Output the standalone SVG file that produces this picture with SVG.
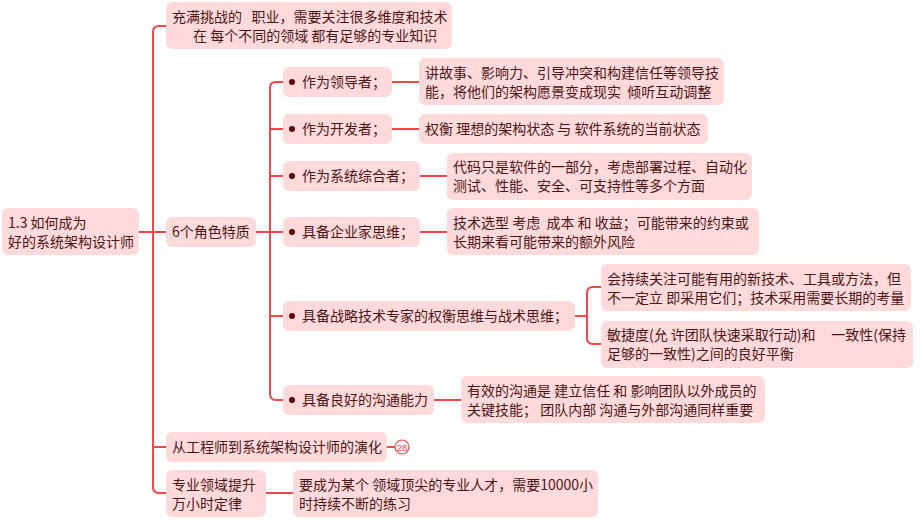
<svg xmlns="http://www.w3.org/2000/svg" width="923" height="530" viewBox="0 0 923 530">
<style>
.n{fill:#ffdada;}
.t{font-family:"Noto Sans CJK SC","Liberation Sans",sans-serif;font-size:14px;fill:#4b1616;white-space:pre;}
.c{fill:none;stroke:#f04848;stroke-width:2;}
.b{fill:#5c0a0a;}
</style>
<rect width="923" height="530" fill="#ffffff"/>
<g id="connectors">
<path class="c" d="M139 232 H166"/>
<path class="c" d="M166 26 H159 Q153 26 153 32 V487 Q153 493 159 493 H166"/>
<path class="c" d="M153 447 H166"/>
<path class="c" d="M256 232 H283"/>
<path class="c" d="M283 82 H276 Q270 82 270 88 V394 Q270 400 276 400 H283"/>
<path class="c" d="M270 129 H283 M270 176 H283 M270 316 H283"/>
<path class="c" d="M392 82 H419 M392 129 H419 M420 176 H447 M420 232 H447 M434 400 H461 M266 493 H293 M387 447 H395"/>
<path class="c" d="M575 316 H587"/>
<path class="c" d="M601 287 H593 Q587 287 587 293 V338 Q587 344 593 344 H601"/>
</g>
<g id="root"><rect class="n" x="2" y="208" width="137" height="47" rx="6"/><text class="t" x="8" y="228">1.3 如何成为<tspan x="8" dy="18.5">好的系统架构设计师</tspan></text></g>
<g id="challenge"><rect class="n" x="166" y="2" width="286" height="47" rx="6"/><text class="t" x="172" y="22">充满挑战的   职业，需要关注很多维度和技术<tspan x="193" dy="18.5">在 每个不同的领域 都有足够的专业知识</tspan></text></g>
<g id="roles"><rect class="n" x="166" y="217" width="90" height="30" rx="6"/><text class="t" x="172" y="237">6个角色特质</text></g>
<g id="leader"><rect class="n" x="283" y="67" width="109" height="30" rx="6"/><circle class="b" cx="292" cy="82" r="3"/><text class="t" x="302" y="87">作为领导者；</text></g>
<g id="leader-leaf"><rect class="n" x="419" y="58" width="305" height="47" rx="6"/><text class="t" x="425" y="78">讲故事、影响力、引导冲突和构建信任等领导技<tspan x="425" dy="18.5">能，将他们的架构愿景变成现实  倾听互动调整</tspan></text></g>
<g id="dev"><rect class="n" x="283" y="114" width="109" height="30" rx="6"/><circle class="b" cx="292" cy="129" r="3"/><text class="t" x="302" y="134">作为开发者；</text></g>
<g id="dev-leaf"><rect class="n" x="419" y="114" width="289" height="30" rx="6"/><text class="t" x="425" y="134">权衡 理想的架构状态 与 软件系统的当前状态</text></g>
<g id="integrator"><rect class="n" x="283" y="161" width="137" height="30" rx="6"/><circle class="b" cx="292" cy="176" r="3"/><text class="t" x="302" y="181">作为系统综合者；</text></g>
<g id="integrator-leaf"><rect class="n" x="447" y="153" width="305" height="47" rx="6"/><text class="t" x="453" y="172">代码只是软件的一部分，考虑部署过程、自动化<tspan x="453" dy="18.5">测试、性能、安全、可支持性等多个方面</tspan></text></g>
<g id="entrepreneur"><rect class="n" x="283" y="217" width="137" height="30" rx="6"/><circle class="b" cx="292" cy="232" r="3"/><text class="t" x="302" y="237">具备企业家思维；</text></g>
<g id="entrepreneur-leaf"><rect class="n" x="447" y="208" width="312" height="47" rx="6"/><text class="t" x="453" y="228">技术选型 考虑  成本 和 收益；可能带来的约束或<tspan x="453" dy="18.5">长期来看可能带来的额外风险</tspan></text></g>
<g id="strategy"><rect class="n" x="283" y="301" width="292" height="30" rx="6"/><circle class="b" cx="292" cy="316" r="3"/><text class="t" x="302" y="321">具备战略技术专家的权衡思维与战术思维；</text></g>
<g id="strategy-leaf1"><rect class="n" x="601" y="264" width="310" height="47" rx="6"/><text class="t" x="607" y="284">会持续关注可能有用的新技术、工具或方法，但<tspan x="607" dy="18.5">不一定立 即采用它们；技术采用需要长期的考量</tspan></text></g>
<g id="strategy-leaf2"><rect class="n" x="601" y="321" width="312" height="47" rx="6"/><text class="t" x="607" y="340">敏捷度(允 许团队快速采取行动)和     一致性(保持<tspan x="607" dy="18.5">足够的一致性)之间的良好平衡</tspan></text></g>
<g id="communication"><rect class="n" x="283" y="385" width="151" height="30" rx="6"/><circle class="b" cx="292" cy="400" r="3"/><text class="t" x="302" y="405">具备良好的沟通能力</text></g>
<g id="communication-leaf"><rect class="n" x="461" y="376" width="304" height="47" rx="6"/><text class="t" x="467" y="396">有效的沟通是 建立信任 和 影响团队以外成员的<tspan x="467" dy="18.5">关键技能； 团队内部 沟通与外部沟通同样重要</tspan></text></g>
<g id="evolution"><rect class="n" x="166" y="432" width="221" height="30" rx="6"/><text class="t" x="172" y="452">从工程师到系统架构设计师的演化</text><circle cx="402" cy="447" r="7" fill="#ffffff" stroke="#f04848" stroke-width="1.2"/><text x="402" y="450.5" text-anchor="middle" font-family="Liberation Sans, sans-serif" font-size="9.5" fill="#f04848">28</text></g>
<g id="expert"><rect class="n" x="166" y="470" width="100" height="47" rx="6"/><text class="t" x="172" y="490">专业领域提升<tspan x="172" dy="18.5">万小时定律</tspan></text></g>
<g id="expert-leaf"><rect class="n" x="293" y="470" width="305" height="47" rx="6"/><text class="t" x="299" y="490">要成为某个 领域顶尖的专业人才，需要10000小<tspan x="299" dy="18.5">时持续不断的练习</tspan></text></g>
</svg>
